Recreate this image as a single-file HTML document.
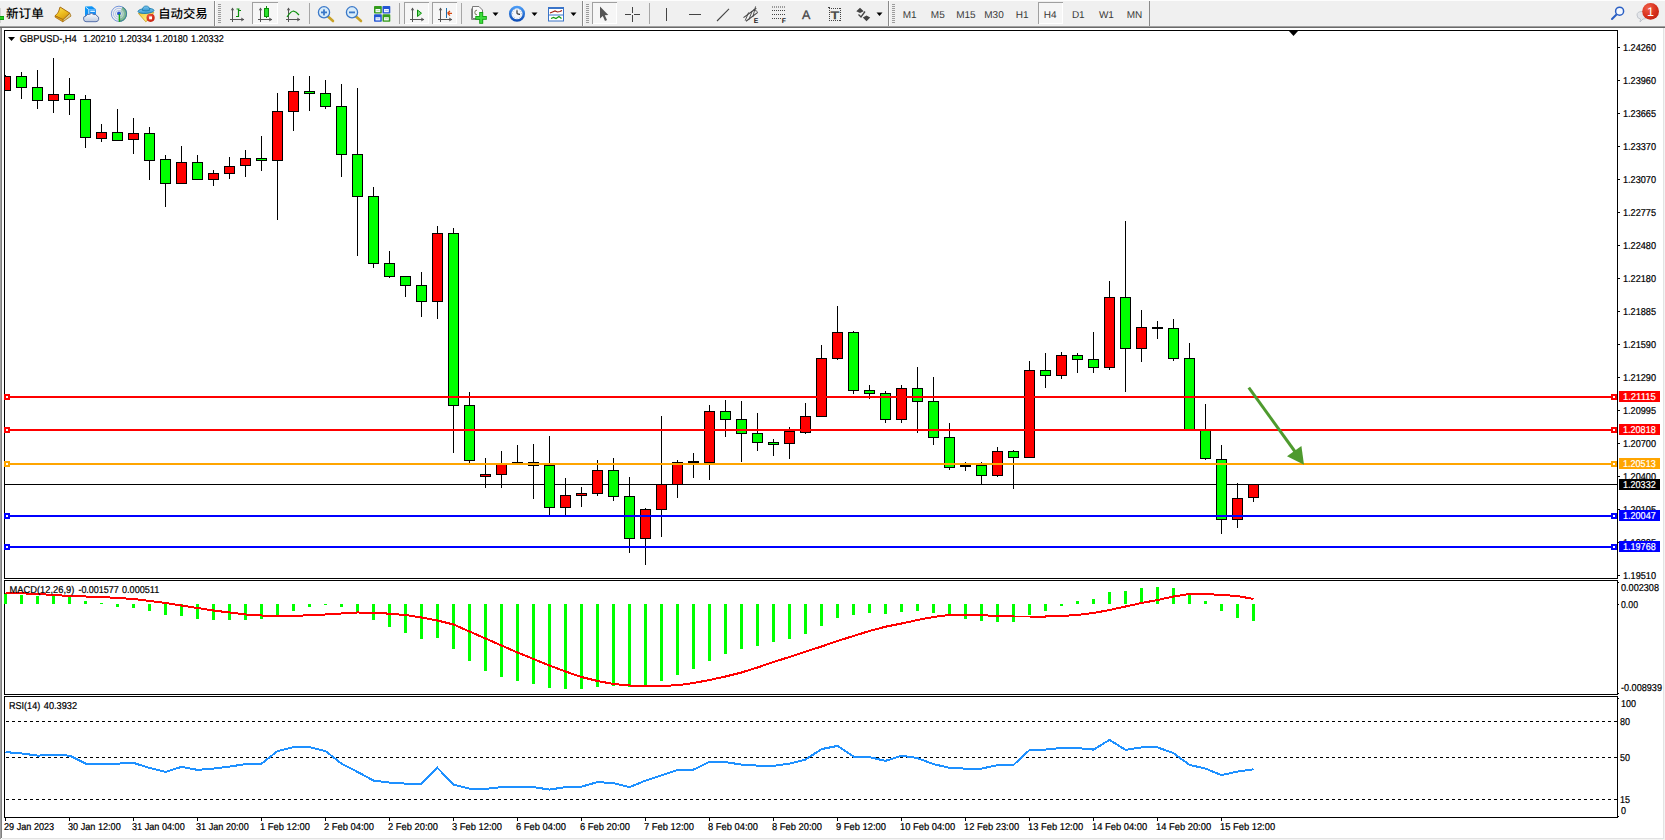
<!DOCTYPE html>
<html><head><meta charset="utf-8"><title>GBPUSD H4</title>
<style>
html,body{margin:0;padding:0;background:#fff;overflow:hidden}
svg{display:block}
svg text{stroke:#000;stroke-width:.22px}
</style></head><body>
<svg width="1665" height="840" viewBox="0 0 1665 840" font-family="'Liberation Sans',sans-serif" font-size="10" fill="#000" text-rendering="geometricPrecision">
<rect x="0" y="0" width="1665" height="840" fill="#fff"/>
<g id="toolbar">
<!-- toolbar background -->
<rect x="0" y="0" width="1665" height="26" fill="#f0f0f0"/>
<rect x="0" y="0" width="1665" height="1" fill="#fdfdfd"/>
<rect x="0" y="26" width="1665" height="1" fill="#a0a0a0"/>
<rect x="0" y="27" width="1665" height="1" fill="#696969"/>
<!-- left stub of new order icon -->
<rect x="0" y="8" width="1" height="15" fill="#d4d4d4"/>
<rect x="0" y="16" width="4" height="4" fill="#0c9a0c"/><rect x="0" y="17" width="3.5" height="2" fill="#22d022"/>
<text x="6" y="17.6" font-size="12.6" font-weight="500" style="fill:#000;stroke:none" font-family="'Liberation Sans','Noto Sans CJK SC',sans-serif">新订单</text>
<!-- book icon -->
<defs>
<linearGradient id="gbook" x1="0" y1="0" x2="0.6" y2="1"><stop offset="0" stop-color="#fbe46a"/><stop offset="0.55" stop-color="#eec020"/><stop offset="1" stop-color="#d89c10"/></linearGradient>
<linearGradient id="gcloud" x1="0" y1="0" x2="0" y2="1"><stop offset="0" stop-color="#ffffff"/><stop offset="1" stop-color="#bcc8de"/></linearGradient>
<linearGradient id="gcube" x1="0" y1="0" x2="1" y2="1"><stop offset="0" stop-color="#0a9cf8"/><stop offset="1" stop-color="#1a84f0"/></linearGradient>
<radialGradient id="gred" cx="0.35" cy="0.3" r="0.8"><stop offset="0" stop-color="#f0604a"/><stop offset="0.6" stop-color="#d8301c"/><stop offset="1" stop-color="#c02010"/></radialGradient>
</defs>
<g>
<path d="M69.8 13.1 L71 16.1 L62.8 21.8 L62.6 19.2 Z" fill="#d9c98a" stroke="#a87418" stroke-width="0.8"/>
<path d="M60.1 7 L69.8 13.1 L63 19.6 L55 15.8 C59.2 12.6 59 9.6 60.1 7 Z" fill="url(#gbook)" stroke="#a86c10" stroke-width="1"/>
<path d="M55 15.8 L63 19.6 L62.8 21.8 L55.2 17.2 Z" fill="#e2a818" stroke="#a86c10" stroke-width="0.8"/>
</g>
<!-- market watch icon -->
<g>
<path d="M85 6.4 L92 6.2 L95.9 9.2 L95.9 16 L85 16 Z" fill="url(#gcube)"/>
<path d="M85.6 7 L88.8 9.6 L88.8 16" fill="none" stroke="#e8f6ff" stroke-width="0.9"/>
<path d="M88.8 9.6 L95.6 9.4" fill="none" stroke="#7cc8ff" stroke-width="0.7"/>
<rect x="90.3" y="10.6" width="4.6" height="1.4" fill="#d8f0ff"/>
<path d="M83.6 19.2 Q82.8 16.2 86 16 Q86.6 13.6 89.4 14.4 Q91.4 12.2 93.8 14.6 Q96.4 13.8 97 16 Q99.4 16.6 98.6 19.6 Q98 21.7 96 21.7 L86 21.7 Q84 21.7 83.6 19.2 Z" fill="url(#gcloud)" stroke="#4a66a4" stroke-width="0.9"/>
</g>
<!-- signals icon -->
<defs>
<radialGradient id="gsig" gradientUnits="userSpaceOnUse" cx="118.95" cy="13.8" r="8"><stop offset="0" stop-color="#e6f2e0" stop-opacity="0.5"/><stop offset="0.55" stop-color="#b4d8ae" stop-opacity="0.9"/><stop offset="1" stop-color="#4fa858"/></radialGradient>
<linearGradient id="ghat" x1="0" y1="0" x2="0" y2="1"><stop offset="0" stop-color="#7cc8f0"/><stop offset="1" stop-color="#3a98d0"/></linearGradient>
<linearGradient id="gface" x1="0" y1="0" x2="1" y2="1"><stop offset="0" stop-color="#f2c830"/><stop offset="0.6" stop-color="#fbe878"/><stop offset="1" stop-color="#e8b820"/></linearGradient>
</defs>
<g fill="none">
<path d="M118.95 13.8 L122.71 6.74 A8 8 0 0 1 118.95 21.80 Z" fill="url(#gsig)"/>
<circle cx="118.95" cy="13.8" r="7.6" stroke="#3f6cd0" stroke-width="1" opacity="0.7"/>
<circle cx="118.95" cy="13.8" r="5.5" stroke="#4a78d8" stroke-width="0.9" opacity="0.45"/>
<circle cx="118.95" cy="13.8" r="3.5" stroke="#4a78d8" stroke-width="0.9" opacity="0.4"/>
<path d="M122.52 7.09 A7.6 7.6 0 0 1 119.22 21.40" stroke="#3a7a8a" stroke-width="0.9" opacity="0.55"/>
<circle cx="118.95" cy="13.4" r="1.9" fill="#2858d0"/>
<rect x="118.7" y="14" width="1.4" height="7.8" fill="#18a818"/>
</g>
<!-- expert advisors icon -->
<g>
<path d="M138.4 13.4 L153.8 12.2 L151 17 L145.8 21.8 Z" fill="url(#gface)" stroke="#c89a18" stroke-width="0.8"/>
<ellipse cx="146" cy="10.9" rx="8" ry="2.5" fill="url(#ghat)" stroke="#1c7cae" stroke-width="0.9" transform="rotate(-4 146 10.9)"/>
<path d="M142.3 10.4 Q142.6 6 146 6 Q149.6 6 149.8 10.2 Q146 11.6 142.3 10.4 Z" fill="url(#ghat)" stroke="#1c7cae" stroke-width="0.8"/>
<circle cx="150.6" cy="17.8" r="4.1" fill="url(#gred)"/>
<rect x="149.1" y="16.4" width="2.9" height="2.9" fill="#fff"/>
</g>
<text x="158.2" y="17.6" font-size="12.4" font-weight="500" style="fill:#000;stroke:none" font-family="'Liberation Sans','Noto Sans CJK SC',sans-serif">自动交易</text>

<rect x="214" y="1" width="1" height="25" fill="#8a8a8a"/>
<rect x="215" y="1" width="1" height="25" fill="#fbfbfb"/>
<rect x="218" y="4" width="3" height="1" fill="#9c9c9c"/>
<rect x="218" y="6" width="3" height="1" fill="#9c9c9c"/>
<rect x="218" y="8" width="3" height="1" fill="#9c9c9c"/>
<rect x="218" y="10" width="3" height="1" fill="#9c9c9c"/>
<rect x="218" y="12" width="3" height="1" fill="#9c9c9c"/>
<rect x="218" y="14" width="3" height="1" fill="#9c9c9c"/>
<rect x="218" y="16" width="3" height="1" fill="#9c9c9c"/>
<rect x="218" y="18" width="3" height="1" fill="#9c9c9c"/>
<rect x="218" y="20" width="3" height="1" fill="#9c9c9c"/>
<rect x="218" y="22" width="3" height="1" fill="#9c9c9c"/>
<rect x="232" y="8" width="1" height="14" fill="#555"/>
<rect x="230" y="19" width="14" height="1" fill="#555"/>
<path d="M230.8 10.3 L232.5 7.4 L234.2 10.3 Z" fill="#555"/>
<path d="M241.3 17.6 L244.2 19.5 L241.3 21.4 Z" fill="#555"/>
<path d="M239.5 9 L236.5 9 M238.5 9 L238.5 17 M238.5 16.5 L236 16.5 M238.5 10.5 L241 10.5" stroke="#0a8f0a" stroke-width="1.2" fill="none"/>
<rect x="252" y="2" width="26" height="22" fill="#f6f6f6"/>
<rect x="252" y="2" width="26" height="1" fill="#a0a0a0"/>
<rect x="252" y="2" width="1" height="22" fill="#a0a0a0"/>
<rect x="277" y="3" width="1" height="21" fill="#ffffff"/>
<rect x="253" y="23" width="25" height="1" fill="#ffffff"/>
<rect x="260" y="8" width="1" height="14" fill="#555"/>
<rect x="258" y="19" width="14" height="1" fill="#555"/>
<path d="M258.8 10.3 L260.5 7.4 L262.2 10.3 Z" fill="#555"/>
<path d="M269.3 17.6 L272.2 19.5 L269.3 21.4 Z" fill="#555"/>
<rect x="266" y="6" width="1" height="12" fill="#0a8f0a"/>
<rect x="264" y="8" width="5" height="9" fill="#0a8f0a"/>
<rect x="265" y="9" width="3" height="7" fill="#2be02b"/>
<rect x="288" y="8" width="1" height="14" fill="#555"/>
<rect x="286" y="19" width="14" height="1" fill="#555"/>
<path d="M286.8 10.3 L288.5 7.4 L290.2 10.3 Z" fill="#555"/>
<path d="M297.3 17.6 L300.2 19.5 L297.3 21.4 Z" fill="#555"/>
<path d="M287 17 Q291 11 293.5 11 Q296 11.5 299 15" stroke="#0a8f0a" stroke-width="1.2" fill="none"/>
<rect x="309" y="3" width="1" height="21" fill="#a6a6a6"/>
<path d="M328 16.5 L333 21" stroke="#c9a227" stroke-width="2.6" stroke-linecap="round"/>
<circle cx="324" cy="12.3" r="5.6" fill="#d8ecfa" stroke="#3a78c8" stroke-width="1.3"/>
<rect x="321" y="11.5" width="6" height="1.8" fill="#3a78c8"/>
<rect x="323.1" y="9.4" width="1.8" height="6" fill="#3a78c8"/>
<path d="M356 16.5 L361 21" stroke="#c9a227" stroke-width="2.6" stroke-linecap="round"/>
<circle cx="352" cy="12.3" r="5.6" fill="#d8ecfa" stroke="#3a78c8" stroke-width="1.3"/>
<rect x="349" y="11.5" width="6" height="1.8" fill="#3a78c8"/>
<rect x="374" y="6" width="7.8" height="7.6" rx="0.8" fill="#349c1c"/>
<rect x="375.5" y="9" width="4.8" height="3.2" fill="#f4f8ff"/>
<rect x="376.3" y="10" width="3.2" height="1" fill="#bfe6a8"/>
<rect x="382.5" y="6" width="7.8" height="7.6" rx="0.8" fill="#2456d4"/>
<rect x="384.0" y="9" width="4.8" height="3.2" fill="#f4f8ff"/>
<rect x="384.8" y="10" width="3.2" height="1" fill="#b4c8f4"/>
<rect x="374" y="14.2" width="7.8" height="7.6" rx="0.8" fill="#2456d4"/>
<rect x="375.5" y="17.2" width="4.8" height="3.2" fill="#f4f8ff"/>
<rect x="376.3" y="18.2" width="3.2" height="1" fill="#b4c8f4"/>
<rect x="382.5" y="14.2" width="7.8" height="7.6" rx="0.8" fill="#349c1c"/>
<rect x="384.0" y="17.2" width="4.8" height="3.2" fill="#f4f8ff"/>
<rect x="384.8" y="18.2" width="3.2" height="1" fill="#bfe6a8"/>
<rect x="399" y="3" width="1" height="21" fill="#a6a6a6"/>
<rect x="404" y="2" width="25" height="22" fill="#f6f6f6"/>
<rect x="404" y="2" width="25" height="1" fill="#a0a0a0"/>
<rect x="404" y="2" width="1" height="22" fill="#a0a0a0"/>
<rect x="428" y="3" width="1" height="21" fill="#ffffff"/>
<rect x="405" y="23" width="24" height="1" fill="#ffffff"/>
<rect x="412" y="8" width="1" height="14" fill="#555"/>
<rect x="410" y="19" width="14" height="1" fill="#555"/>
<path d="M410.8 10.3 L412.5 7.4 L414.2 10.3 Z" fill="#555"/>
<path d="M421.3 17.6 L424.2 19.5 L421.3 21.4 Z" fill="#555"/>
<path d="M417.5 10 L417.5 16.5 L421.5 13.2 Z" fill="#7be07b" stroke="#0a8f0a" stroke-width="1"/>
<rect x="432" y="2" width="25" height="22" fill="#f6f6f6"/>
<rect x="432" y="2" width="25" height="1" fill="#a0a0a0"/>
<rect x="432" y="2" width="1" height="22" fill="#a0a0a0"/>
<rect x="456" y="3" width="1" height="21" fill="#ffffff"/>
<rect x="433" y="23" width="24" height="1" fill="#ffffff"/>
<rect x="440" y="8" width="1" height="14" fill="#555"/>
<rect x="438" y="19" width="14" height="1" fill="#555"/>
<path d="M438.8 10.3 L440.5 7.4 L442.2 10.3 Z" fill="#555"/>
<path d="M449.3 17.6 L452.2 19.5 L449.3 21.4 Z" fill="#555"/>
<rect x="446" y="8" width="1" height="10" fill="#1a6fb0"/>
<path d="M447.5 13.3 L452 13.3 M447.5 13.3 L450 11 M447.5 13.3 L450 15.6" stroke="#d84a10" stroke-width="1.2" fill="none"/>
<rect x="461" y="3" width="1" height="21" fill="#a6a6a6"/>
<path d="M471.5 8.5 L471.5 19.5 L480 19.5" fill="none" stroke="#8a8a8a" stroke-width="1"/>
<path d="M472.5 6.5 L479 6.5 L482.5 10 L482.5 18.5 L472.5 18.5 Z" fill="#fafafa" stroke="#7a7a7a" stroke-width="1"/>
<path d="M477 10.2 Q474.8 10 474.8 12.5 Q474.8 15 477 14.8" fill="none" stroke="#6a6a4a" stroke-width="0.9"/>
<rect x="479.2" y="12" width="4" height="11.8" fill="#10a010"/>
<rect x="475.3" y="16" width="11.5" height="3.8" fill="#10a010"/>
<rect x="480.1" y="12.9" width="2.2" height="10" fill="#3fdc3f"/>
<rect x="476.2" y="16.9" width="9.7" height="2" fill="#3fdc3f"/>
<path d="M492.5 12.5 L498.5 12.5 L495.5 16 Z" fill="#000"/>
<defs><linearGradient id="gclk" x1="0" y1="0" x2="0" y2="1"><stop offset="0" stop-color="#4a9af4"/><stop offset="1" stop-color="#0f4fb8"/></linearGradient></defs>
<circle cx="517" cy="13.8" r="6.8" fill="#f2f6fc" stroke="url(#gclk)" stroke-width="2.5"/>
<circle cx="521.60" cy="13.80" r="0.45" fill="#8a94a8"/>
<circle cx="520.98" cy="16.10" r="0.45" fill="#8a94a8"/>
<circle cx="519.30" cy="17.78" r="0.45" fill="#8a94a8"/>
<circle cx="517.00" cy="18.40" r="0.45" fill="#8a94a8"/>
<circle cx="514.70" cy="17.78" r="0.45" fill="#8a94a8"/>
<circle cx="513.02" cy="16.10" r="0.45" fill="#8a94a8"/>
<circle cx="512.40" cy="13.80" r="0.45" fill="#8a94a8"/>
<circle cx="513.02" cy="11.50" r="0.45" fill="#8a94a8"/>
<circle cx="514.70" cy="9.82" r="0.45" fill="#8a94a8"/>
<circle cx="517.00" cy="9.20" r="0.45" fill="#8a94a8"/>
<circle cx="519.30" cy="9.82" r="0.45" fill="#8a94a8"/>
<circle cx="520.98" cy="11.50" r="0.45" fill="#8a94a8"/>
<path d="M517 13.8 L517 10.2 M517 13.8 L520 14.4" stroke="#222" stroke-width="1.1" fill="none"/>
<path d="M531.5 12.5 L537.5 12.5 L534.5 16 Z" fill="#000"/>
<rect x="548" y="7" width="16" height="14.5" fill="#3a74c8"/>
<rect x="549" y="9" width="14" height="5.5" fill="#fff"/>
<rect x="549" y="15.5" width="14" height="5" fill="#fff"/>
<path d="M550 13 L552.5 12 L555 11 L557.5 12 L560 11.5 L562 10.5" stroke="#a02010" stroke-width="1.2" fill="none"/>
<path d="M551 18.5 L553.5 17.5 L556 18.5 L559 16.5 L561.5 18.5" stroke="#119a11" stroke-width="1.2" fill="none"/>
<path d="M570.5 12.5 L576.5 12.5 L573.5 16 Z" fill="#000"/>
<rect x="582" y="1" width="1" height="25" fill="#8a8a8a"/>
<rect x="583" y="1" width="1" height="25" fill="#fbfbfb"/>
<rect x="586" y="4" width="3" height="1" fill="#9c9c9c"/>
<rect x="586" y="6" width="3" height="1" fill="#9c9c9c"/>
<rect x="586" y="8" width="3" height="1" fill="#9c9c9c"/>
<rect x="586" y="10" width="3" height="1" fill="#9c9c9c"/>
<rect x="586" y="12" width="3" height="1" fill="#9c9c9c"/>
<rect x="586" y="14" width="3" height="1" fill="#9c9c9c"/>
<rect x="586" y="16" width="3" height="1" fill="#9c9c9c"/>
<rect x="586" y="18" width="3" height="1" fill="#9c9c9c"/>
<rect x="586" y="20" width="3" height="1" fill="#9c9c9c"/>
<rect x="586" y="22" width="3" height="1" fill="#9c9c9c"/>
<rect x="592" y="2" width="25" height="22" fill="#f6f6f6"/>
<rect x="592" y="2" width="25" height="1" fill="#a0a0a0"/>
<rect x="592" y="2" width="1" height="22" fill="#a0a0a0"/>
<rect x="616" y="3" width="1" height="21" fill="#ffffff"/>
<rect x="593" y="23" width="24" height="1" fill="#ffffff"/>
<path d="M600 6.5 L600 18.5 L602.8 16 L605 21 L607 20 L604.8 15.3 L608.3 15 Z" fill="#555"/>
<rect x="632" y="7" width="1" height="6" fill="#444"/>
<rect x="632" y="15" width="1" height="7" fill="#444"/>
<rect x="625" y="14" width="6" height="1" fill="#444"/>
<rect x="634" y="14" width="6" height="1" fill="#444"/>
<rect x="649" y="3" width="1" height="21" fill="#a6a6a6"/>
<rect x="666" y="8" width="1" height="13" fill="#444"/>
<rect x="689" y="14" width="12" height="1" fill="#444"/>
<path d="M717 21 L729 8.8" stroke="#444" stroke-width="1.1"/>
<path d="M743.5 17.6 L756.3 8.2 M746 21.2 L757.8 12.4" stroke="#444" stroke-width="1.1" fill="none"/>
<path d="M745.2 20.6 L748.6 12.4 M748.8 19.8 L752.2 11 M752.8 17 L755.6 6.4 M753.2 9.8 L757.4 11.4" stroke="#444" stroke-width="0.9" fill="none"/>
<text x="753.8" y="22.6" font-size="6.8" font-weight="bold" style="fill:#222;stroke:none" font-family="'Liberation Sans',sans-serif">E</text>
<rect x="772" y="6.5" width="1" height="1" fill="#444"/>
<rect x="774" y="6.5" width="1" height="1" fill="#444"/>
<rect x="776" y="6.5" width="1" height="1" fill="#444"/>
<rect x="778" y="6.5" width="1" height="1" fill="#444"/>
<rect x="780" y="6.5" width="1" height="1" fill="#444"/>
<rect x="782" y="6.5" width="1" height="1" fill="#444"/>
<rect x="784" y="6.5" width="1" height="1" fill="#444"/>
<rect x="772" y="10.0" width="1" height="1" fill="#444"/>
<rect x="774" y="10.0" width="1" height="1" fill="#444"/>
<rect x="776" y="10.0" width="1" height="1" fill="#444"/>
<rect x="778" y="10.0" width="1" height="1" fill="#444"/>
<rect x="780" y="10.0" width="1" height="1" fill="#444"/>
<rect x="782" y="10.0" width="1" height="1" fill="#444"/>
<rect x="784" y="10.0" width="1" height="1" fill="#444"/>
<rect x="772" y="14.0" width="1" height="1" fill="#444"/>
<rect x="774" y="14.0" width="1" height="1" fill="#444"/>
<rect x="776" y="14.0" width="1" height="1" fill="#444"/>
<rect x="778" y="14.0" width="1" height="1" fill="#444"/>
<rect x="780" y="14.0" width="1" height="1" fill="#444"/>
<rect x="782" y="14.0" width="1" height="1" fill="#444"/>
<rect x="784" y="14.0" width="1" height="1" fill="#444"/>
<rect x="772" y="18.0" width="1" height="1" fill="#444"/>
<rect x="774" y="18.0" width="1" height="1" fill="#444"/>
<rect x="776" y="18.0" width="1" height="1" fill="#444"/>
<rect x="778" y="18.0" width="1" height="1" fill="#444"/>
<rect x="780" y="18.0" width="1" height="1" fill="#444"/>
<text x="781.8" y="22.6" font-size="6.8" font-weight="bold" style="fill:#222;stroke:none" font-family="'Liberation Sans',sans-serif">F</text>
<text x="802" y="19" font-size="12.5" style="fill:#444;stroke:#444;stroke-width:.3px" font-family="'Liberation Sans',sans-serif">A</text>
<rect x="829" y="8" width="1" height="1" fill="#444"/>
<rect x="829" y="20" width="1" height="1" fill="#444"/>
<rect x="831" y="8" width="1" height="1" fill="#444"/>
<rect x="831" y="20" width="1" height="1" fill="#444"/>
<rect x="833" y="8" width="1" height="1" fill="#444"/>
<rect x="833" y="20" width="1" height="1" fill="#444"/>
<rect x="835" y="8" width="1" height="1" fill="#444"/>
<rect x="835" y="20" width="1" height="1" fill="#444"/>
<rect x="837" y="8" width="1" height="1" fill="#444"/>
<rect x="837" y="20" width="1" height="1" fill="#444"/>
<rect x="839" y="8" width="1" height="1" fill="#444"/>
<rect x="839" y="20" width="1" height="1" fill="#444"/>
<rect x="829" y="8" width="1" height="1" fill="#444"/>
<rect x="840" y="8" width="1" height="1" fill="#444"/>
<rect x="829" y="10" width="1" height="1" fill="#444"/>
<rect x="840" y="10" width="1" height="1" fill="#444"/>
<rect x="829" y="12" width="1" height="1" fill="#444"/>
<rect x="840" y="12" width="1" height="1" fill="#444"/>
<rect x="829" y="14" width="1" height="1" fill="#444"/>
<rect x="840" y="14" width="1" height="1" fill="#444"/>
<rect x="829" y="16" width="1" height="1" fill="#444"/>
<rect x="840" y="16" width="1" height="1" fill="#444"/>
<rect x="829" y="18" width="1" height="1" fill="#444"/>
<rect x="840" y="18" width="1" height="1" fill="#444"/>
<rect x="829" y="20" width="1" height="1" fill="#444"/>
<rect x="840" y="20" width="1" height="1" fill="#444"/>
<rect x="828" y="7" width="2" height="1" fill="#444"/>
<text x="830.6" y="18.6" font-size="10.5" textLength="8.8" lengthAdjust="spacingAndGlyphs" style="fill:#444;stroke:#444;stroke-width:.5px" font-family="'Liberation Sans',sans-serif">T</text>
<path d="M856.3 11.2 L860 7.8 L863.7 11.2 L860 13 Z M862.8 17.4 L866.5 15.6 L870.2 17.4 L866.5 21.2 Z" fill="#444"/>
<path d="M858.5 14.5 L861 17 L865 11.5" stroke="#444" stroke-width="1.3" fill="none"/>
<path d="M876.5 12.5 L882.5 12.5 L879.5 16 Z" fill="#000"/>
<rect x="888" y="1" width="1" height="25" fill="#8a8a8a"/>
<rect x="889" y="1" width="1" height="25" fill="#fbfbfb"/>
<rect x="892" y="4" width="3" height="1" fill="#9c9c9c"/>
<rect x="892" y="6" width="3" height="1" fill="#9c9c9c"/>
<rect x="892" y="8" width="3" height="1" fill="#9c9c9c"/>
<rect x="892" y="10" width="3" height="1" fill="#9c9c9c"/>
<rect x="892" y="12" width="3" height="1" fill="#9c9c9c"/>
<rect x="892" y="14" width="3" height="1" fill="#9c9c9c"/>
<rect x="892" y="16" width="3" height="1" fill="#9c9c9c"/>
<rect x="892" y="18" width="3" height="1" fill="#9c9c9c"/>
<rect x="892" y="20" width="3" height="1" fill="#9c9c9c"/>
<rect x="892" y="22" width="3" height="1" fill="#9c9c9c"/>
<rect x="1038" y="2" width="25" height="22" fill="#f6f6f6"/>
<rect x="1038" y="2" width="25" height="1" fill="#a0a0a0"/>
<rect x="1038" y="2" width="1" height="22" fill="#a0a0a0"/>
<rect x="1062" y="3" width="1" height="21" fill="#ffffff"/>
<rect x="1039" y="23" width="24" height="1" fill="#ffffff"/>
<text x="909.7" y="18" font-size="10" text-anchor="middle" style="fill:#383838;stroke:none" font-family="'Liberation Sans',sans-serif">M1</text>
<text x="937.8" y="18" font-size="10" text-anchor="middle" style="fill:#383838;stroke:none" font-family="'Liberation Sans',sans-serif">M5</text>
<text x="965.9" y="18" font-size="10" text-anchor="middle" style="fill:#383838;stroke:none" font-family="'Liberation Sans',sans-serif">M15</text>
<text x="994.0" y="18" font-size="10" text-anchor="middle" style="fill:#383838;stroke:none" font-family="'Liberation Sans',sans-serif">M30</text>
<text x="1022.1" y="18" font-size="10" text-anchor="middle" style="fill:#383838;stroke:none" font-family="'Liberation Sans',sans-serif">H1</text>
<text x="1050.2" y="18" font-size="10" text-anchor="middle" style="fill:#383838;stroke:none" font-family="'Liberation Sans',sans-serif">H4</text>
<text x="1078.3" y="18" font-size="10" text-anchor="middle" style="fill:#383838;stroke:none" font-family="'Liberation Sans',sans-serif">D1</text>
<text x="1106.4" y="18" font-size="10" text-anchor="middle" style="fill:#383838;stroke:none" font-family="'Liberation Sans',sans-serif">W1</text>
<text x="1134.5" y="18" font-size="10" text-anchor="middle" style="fill:#383838;stroke:none" font-family="'Liberation Sans',sans-serif">MN</text>
<rect x="1149" y="1" width="1" height="25" fill="#8a8a8a"/>
<path d="M1616.5 14.5 L1612 19" stroke="#2a5fc4" stroke-width="2" stroke-linecap="round"/>
<circle cx="1619.6" cy="11.2" r="4" fill="#f4f8ff" stroke="#2a5fc4" stroke-width="1.5"/>
<path d="M1637 15 Q1637 11.5 1642 11.5 Q1648 11.5 1648 15.5 Q1648 19 1643 19 L1640 22 L1640.5 19 Q1637 18.5 1637 15 Z" fill="#e4e6ea" stroke="#b8bcc4" stroke-width="0.8"/>
<circle cx="1650.6" cy="11.4" r="8.4" fill="url(#gred)"/>
<text x="1650.6" y="16" font-size="12.5" text-anchor="middle" style="fill:#fff;stroke:none" font-family="'Liberation Sans',sans-serif">1</text>
</g>
<g shape-rendering="crispEdges">
<rect x="0" y="28" width="1" height="811" fill="#a0a0a0"/>
<rect x="1" y="28" width="1" height="810" fill="#808080"/>
<rect x="1663" y="28" width="1" height="811" fill="#e3e3e3"/>
<rect x="1664" y="28" width="1" height="812" fill="#f4f4f4"/>
<rect x="2" y="838" width="1662" height="1" fill="#e3e3e3"/>
<rect x="0" y="839" width="1665" height="1" fill="#f4f4f4"/>
<rect x="4" y="30" width="1614" height="1" fill="#000"/>
<rect x="4" y="30" width="1" height="788" fill="#000"/>
<rect x="1617" y="30" width="1" height="788" fill="#000"/>
<rect x="4" y="578" width="1614" height="1" fill="#000"/>
<rect x="4" y="579" width="1614" height="1" fill="#fff"/>
<rect x="4" y="580" width="1614" height="1" fill="#000"/>
<rect x="4" y="694" width="1614" height="1" fill="#000"/>
<rect x="4" y="695" width="1614" height="1" fill="#fff"/>
<rect x="4" y="696" width="1614" height="1" fill="#000"/>
<rect x="4" y="817" width="1614" height="1" fill="#000"/>
<path d="M1289 31 L1298 31 L1293.5 36 Z" fill="#000" shape-rendering="auto"/>
<rect x="5" y="484" width="1612" height="1" fill="#000"/>
<clipPath id="cc"><rect x="5" y="31" width="1612" height="547"/></clipPath>
<g id="candles" clip-path="url(#cc)"><rect x="5" y="75" width="1" height="16" fill="#000"/>
<rect x="0" y="76" width="11" height="15" fill="#000"/>
<rect x="1" y="77" width="9" height="13" fill="#ff0000"/>
<rect x="21" y="72" width="1" height="27" fill="#000"/>
<rect x="16" y="76" width="11" height="12" fill="#000"/>
<rect x="17" y="77" width="9" height="10" fill="#00ff00"/>
<rect x="37" y="70" width="1" height="39" fill="#000"/>
<rect x="32" y="87" width="11" height="14" fill="#000"/>
<rect x="33" y="88" width="9" height="12" fill="#00ff00"/>
<rect x="53" y="58" width="1" height="55" fill="#000"/>
<rect x="48" y="94" width="11" height="7" fill="#000"/>
<rect x="49" y="95" width="9" height="5" fill="#ff0000"/>
<rect x="69" y="78" width="1" height="37" fill="#000"/>
<rect x="64" y="94" width="11" height="6" fill="#000"/>
<rect x="65" y="95" width="9" height="4" fill="#00ff00"/>
<rect x="85" y="95" width="1" height="53" fill="#000"/>
<rect x="80" y="99" width="11" height="39" fill="#000"/>
<rect x="81" y="100" width="9" height="37" fill="#00ff00"/>
<rect x="101" y="124" width="1" height="18" fill="#000"/>
<rect x="96" y="132" width="11" height="7" fill="#000"/>
<rect x="97" y="133" width="9" height="5" fill="#ff0000"/>
<rect x="117" y="109" width="1" height="32" fill="#000"/>
<rect x="112" y="132" width="11" height="9" fill="#000"/>
<rect x="113" y="133" width="9" height="7" fill="#00ff00"/>
<rect x="133" y="118" width="1" height="36" fill="#000"/>
<rect x="128" y="133" width="11" height="7" fill="#000"/>
<rect x="129" y="134" width="9" height="5" fill="#ff0000"/>
<rect x="149" y="127" width="1" height="53" fill="#000"/>
<rect x="144" y="133" width="11" height="28" fill="#000"/>
<rect x="145" y="134" width="9" height="26" fill="#00ff00"/>
<rect x="165" y="155" width="1" height="52" fill="#000"/>
<rect x="160" y="159" width="11" height="25" fill="#000"/>
<rect x="161" y="160" width="9" height="23" fill="#00ff00"/>
<rect x="181" y="146" width="1" height="38" fill="#000"/>
<rect x="176" y="162" width="11" height="22" fill="#000"/>
<rect x="177" y="163" width="9" height="20" fill="#ff0000"/>
<rect x="197" y="155" width="1" height="25" fill="#000"/>
<rect x="192" y="162" width="11" height="18" fill="#000"/>
<rect x="193" y="163" width="9" height="16" fill="#00ff00"/>
<rect x="213" y="170" width="1" height="16" fill="#000"/>
<rect x="208" y="173" width="11" height="7" fill="#000"/>
<rect x="209" y="174" width="9" height="5" fill="#ff0000"/>
<rect x="229" y="157" width="1" height="22" fill="#000"/>
<rect x="224" y="166" width="11" height="8" fill="#000"/>
<rect x="225" y="167" width="9" height="6" fill="#ff0000"/>
<rect x="245" y="150" width="1" height="27" fill="#000"/>
<rect x="240" y="158" width="11" height="8" fill="#000"/>
<rect x="241" y="159" width="9" height="6" fill="#ff0000"/>
<rect x="261" y="136" width="1" height="35" fill="#000"/>
<rect x="256" y="158" width="11" height="3" fill="#000"/>
<rect x="257" y="159" width="9" height="1" fill="#00ff00"/>
<rect x="277" y="93" width="1" height="127" fill="#000"/>
<rect x="272" y="111" width="11" height="50" fill="#000"/>
<rect x="273" y="112" width="9" height="48" fill="#ff0000"/>
<rect x="293" y="76" width="1" height="55" fill="#000"/>
<rect x="288" y="91" width="11" height="21" fill="#000"/>
<rect x="289" y="92" width="9" height="19" fill="#ff0000"/>
<rect x="309" y="76" width="1" height="35" fill="#000"/>
<rect x="304" y="91" width="11" height="3" fill="#000"/>
<rect x="305" y="92" width="9" height="1" fill="#00ff00"/>
<rect x="325" y="80" width="1" height="29" fill="#000"/>
<rect x="320" y="93" width="11" height="14" fill="#000"/>
<rect x="321" y="94" width="9" height="12" fill="#00ff00"/>
<rect x="341" y="84" width="1" height="93" fill="#000"/>
<rect x="336" y="106" width="11" height="49" fill="#000"/>
<rect x="337" y="107" width="9" height="47" fill="#00ff00"/>
<rect x="357" y="88" width="1" height="168" fill="#000"/>
<rect x="352" y="154" width="11" height="43" fill="#000"/>
<rect x="353" y="155" width="9" height="41" fill="#00ff00"/>
<rect x="373" y="187" width="1" height="81" fill="#000"/>
<rect x="368" y="196" width="11" height="68" fill="#000"/>
<rect x="369" y="197" width="9" height="66" fill="#00ff00"/>
<rect x="389" y="251" width="1" height="27" fill="#000"/>
<rect x="384" y="263" width="11" height="14" fill="#000"/>
<rect x="385" y="264" width="9" height="12" fill="#00ff00"/>
<rect x="405" y="276" width="1" height="21" fill="#000"/>
<rect x="400" y="276" width="11" height="10" fill="#000"/>
<rect x="401" y="277" width="9" height="8" fill="#00ff00"/>
<rect x="421" y="272" width="1" height="45" fill="#000"/>
<rect x="416" y="285" width="11" height="17" fill="#000"/>
<rect x="417" y="286" width="9" height="15" fill="#00ff00"/>
<rect x="437" y="226" width="1" height="93" fill="#000"/>
<rect x="432" y="233" width="11" height="69" fill="#000"/>
<rect x="433" y="234" width="9" height="67" fill="#ff0000"/>
<rect x="453" y="228" width="1" height="225" fill="#000"/>
<rect x="448" y="233" width="11" height="173" fill="#000"/>
<rect x="449" y="234" width="9" height="171" fill="#00ff00"/>
<rect x="469" y="392" width="1" height="71" fill="#000"/>
<rect x="464" y="405" width="11" height="56" fill="#000"/>
<rect x="465" y="406" width="9" height="54" fill="#00ff00"/>
<rect x="485" y="458" width="1" height="30" fill="#000"/>
<rect x="480" y="474" width="11" height="3" fill="#000"/>
<rect x="481" y="475" width="9" height="1" fill="#ff0000"/>
<rect x="501" y="451" width="1" height="37" fill="#000"/>
<rect x="496" y="464" width="11" height="11" fill="#000"/>
<rect x="497" y="465" width="9" height="9" fill="#ff0000"/>
<rect x="517" y="445" width="1" height="19" fill="#000"/>
<rect x="512" y="462" width="11" height="1" fill="#000"/>
<rect x="533" y="444" width="1" height="55" fill="#000"/>
<rect x="528" y="462" width="11" height="4" fill="#000"/>
<rect x="529" y="463" width="9" height="2" fill="#00ff00"/>
<rect x="549" y="436" width="1" height="79" fill="#000"/>
<rect x="544" y="465" width="11" height="43" fill="#000"/>
<rect x="545" y="466" width="9" height="41" fill="#00ff00"/>
<rect x="565" y="478" width="1" height="37" fill="#000"/>
<rect x="560" y="495" width="11" height="13" fill="#000"/>
<rect x="561" y="496" width="9" height="11" fill="#ff0000"/>
<rect x="581" y="487" width="1" height="20" fill="#000"/>
<rect x="576" y="493" width="11" height="3" fill="#000"/>
<rect x="577" y="494" width="9" height="1" fill="#ff0000"/>
<rect x="597" y="460" width="1" height="36" fill="#000"/>
<rect x="592" y="470" width="11" height="24" fill="#000"/>
<rect x="593" y="471" width="9" height="22" fill="#ff0000"/>
<rect x="613" y="458" width="1" height="43" fill="#000"/>
<rect x="608" y="470" width="11" height="27" fill="#000"/>
<rect x="609" y="471" width="9" height="25" fill="#00ff00"/>
<rect x="629" y="477" width="1" height="76" fill="#000"/>
<rect x="624" y="496" width="11" height="43" fill="#000"/>
<rect x="625" y="497" width="9" height="41" fill="#00ff00"/>
<rect x="645" y="508" width="1" height="57" fill="#000"/>
<rect x="640" y="509" width="11" height="30" fill="#000"/>
<rect x="641" y="510" width="9" height="28" fill="#ff0000"/>
<rect x="661" y="416" width="1" height="121" fill="#000"/>
<rect x="656" y="484" width="11" height="26" fill="#000"/>
<rect x="657" y="485" width="9" height="24" fill="#ff0000"/>
<rect x="677" y="460" width="1" height="38" fill="#000"/>
<rect x="672" y="462" width="11" height="23" fill="#000"/>
<rect x="673" y="463" width="9" height="21" fill="#ff0000"/>
<rect x="693" y="453" width="1" height="25" fill="#000"/>
<rect x="688" y="461" width="11" height="2" fill="#000"/>
<rect x="709" y="405" width="1" height="75" fill="#000"/>
<rect x="704" y="411" width="11" height="52" fill="#000"/>
<rect x="705" y="412" width="9" height="50" fill="#ff0000"/>
<rect x="725" y="400" width="1" height="37" fill="#000"/>
<rect x="720" y="411" width="11" height="9" fill="#000"/>
<rect x="721" y="412" width="9" height="7" fill="#00ff00"/>
<rect x="741" y="401" width="1" height="61" fill="#000"/>
<rect x="736" y="419" width="11" height="15" fill="#000"/>
<rect x="737" y="420" width="9" height="13" fill="#00ff00"/>
<rect x="757" y="413" width="1" height="38" fill="#000"/>
<rect x="752" y="433" width="11" height="10" fill="#000"/>
<rect x="753" y="434" width="9" height="8" fill="#00ff00"/>
<rect x="773" y="439" width="1" height="17" fill="#000"/>
<rect x="768" y="442" width="11" height="3" fill="#000"/>
<rect x="769" y="443" width="9" height="1" fill="#00ff00"/>
<rect x="789" y="427" width="1" height="32" fill="#000"/>
<rect x="784" y="431" width="11" height="13" fill="#000"/>
<rect x="785" y="432" width="9" height="11" fill="#ff0000"/>
<rect x="805" y="403" width="1" height="31" fill="#000"/>
<rect x="800" y="416" width="11" height="17" fill="#000"/>
<rect x="801" y="417" width="9" height="15" fill="#ff0000"/>
<rect x="821" y="345" width="1" height="72" fill="#000"/>
<rect x="816" y="358" width="11" height="59" fill="#000"/>
<rect x="817" y="359" width="9" height="57" fill="#ff0000"/>
<rect x="837" y="306" width="1" height="54" fill="#000"/>
<rect x="832" y="332" width="11" height="27" fill="#000"/>
<rect x="833" y="333" width="9" height="25" fill="#ff0000"/>
<rect x="853" y="331" width="1" height="63" fill="#000"/>
<rect x="848" y="332" width="11" height="59" fill="#000"/>
<rect x="849" y="333" width="9" height="57" fill="#00ff00"/>
<rect x="869" y="385" width="1" height="14" fill="#000"/>
<rect x="864" y="390" width="11" height="4" fill="#000"/>
<rect x="865" y="391" width="9" height="2" fill="#00ff00"/>
<rect x="885" y="391" width="1" height="32" fill="#000"/>
<rect x="880" y="393" width="11" height="27" fill="#000"/>
<rect x="881" y="394" width="9" height="25" fill="#00ff00"/>
<rect x="901" y="385" width="1" height="38" fill="#000"/>
<rect x="896" y="388" width="11" height="32" fill="#000"/>
<rect x="897" y="389" width="9" height="30" fill="#ff0000"/>
<rect x="917" y="367" width="1" height="66" fill="#000"/>
<rect x="912" y="388" width="11" height="14" fill="#000"/>
<rect x="913" y="389" width="9" height="12" fill="#00ff00"/>
<rect x="933" y="377" width="1" height="68" fill="#000"/>
<rect x="928" y="401" width="11" height="37" fill="#000"/>
<rect x="929" y="402" width="9" height="35" fill="#00ff00"/>
<rect x="949" y="423" width="1" height="47" fill="#000"/>
<rect x="944" y="437" width="11" height="31" fill="#000"/>
<rect x="945" y="438" width="9" height="29" fill="#00ff00"/>
<rect x="965" y="462" width="1" height="9" fill="#000"/>
<rect x="960" y="465" width="11" height="2" fill="#000"/>
<rect x="981" y="462" width="1" height="22" fill="#000"/>
<rect x="976" y="465" width="11" height="11" fill="#000"/>
<rect x="977" y="466" width="9" height="9" fill="#00ff00"/>
<rect x="997" y="447" width="1" height="30" fill="#000"/>
<rect x="992" y="451" width="11" height="25" fill="#000"/>
<rect x="993" y="452" width="9" height="23" fill="#ff0000"/>
<rect x="1013" y="450" width="1" height="39" fill="#000"/>
<rect x="1008" y="451" width="11" height="7" fill="#000"/>
<rect x="1009" y="452" width="9" height="5" fill="#00ff00"/>
<rect x="1029" y="361" width="1" height="97" fill="#000"/>
<rect x="1024" y="370" width="11" height="88" fill="#000"/>
<rect x="1025" y="371" width="9" height="86" fill="#ff0000"/>
<rect x="1045" y="353" width="1" height="35" fill="#000"/>
<rect x="1040" y="370" width="11" height="6" fill="#000"/>
<rect x="1041" y="371" width="9" height="4" fill="#00ff00"/>
<rect x="1061" y="352" width="1" height="27" fill="#000"/>
<rect x="1056" y="355" width="11" height="21" fill="#000"/>
<rect x="1057" y="356" width="9" height="19" fill="#ff0000"/>
<rect x="1077" y="353" width="1" height="20" fill="#000"/>
<rect x="1072" y="355" width="11" height="5" fill="#000"/>
<rect x="1073" y="356" width="9" height="3" fill="#00ff00"/>
<rect x="1093" y="332" width="1" height="41" fill="#000"/>
<rect x="1088" y="359" width="11" height="9" fill="#000"/>
<rect x="1089" y="360" width="9" height="7" fill="#00ff00"/>
<rect x="1109" y="281" width="1" height="89" fill="#000"/>
<rect x="1104" y="297" width="11" height="71" fill="#000"/>
<rect x="1105" y="298" width="9" height="69" fill="#ff0000"/>
<rect x="1125" y="221" width="1" height="171" fill="#000"/>
<rect x="1120" y="297" width="11" height="52" fill="#000"/>
<rect x="1121" y="298" width="9" height="50" fill="#00ff00"/>
<rect x="1141" y="310" width="1" height="52" fill="#000"/>
<rect x="1136" y="327" width="11" height="22" fill="#000"/>
<rect x="1137" y="328" width="9" height="20" fill="#ff0000"/>
<rect x="1157" y="321" width="1" height="18" fill="#000"/>
<rect x="1152" y="327" width="11" height="2" fill="#000"/>
<rect x="1173" y="319" width="1" height="42" fill="#000"/>
<rect x="1168" y="328" width="11" height="31" fill="#000"/>
<rect x="1169" y="329" width="9" height="29" fill="#00ff00"/>
<rect x="1189" y="343" width="1" height="87" fill="#000"/>
<rect x="1184" y="358" width="11" height="72" fill="#000"/>
<rect x="1185" y="359" width="9" height="70" fill="#00ff00"/>
<rect x="1205" y="404" width="1" height="56" fill="#000"/>
<rect x="1200" y="430" width="11" height="29" fill="#000"/>
<rect x="1201" y="431" width="9" height="27" fill="#00ff00"/>
<rect x="1221" y="445" width="1" height="89" fill="#000"/>
<rect x="1216" y="459" width="11" height="61" fill="#000"/>
<rect x="1217" y="460" width="9" height="59" fill="#00ff00"/>
<rect x="1237" y="483" width="1" height="45" fill="#000"/>
<rect x="1232" y="498" width="11" height="22" fill="#000"/>
<rect x="1233" y="499" width="9" height="20" fill="#ff0000"/>
<rect x="1253" y="484" width="1" height="18" fill="#000"/>
<rect x="1248" y="484" width="11" height="14" fill="#000"/>
<rect x="1249" y="485" width="9" height="12" fill="#ff0000"/></g>
<rect x="5" y="396" width="1612" height="2" fill="#ff0000"/>
<rect x="4" y="394" width="6" height="6" fill="#ff0000"/><rect x="6" y="396" width="2" height="2" fill="#fff"/>
<rect x="1611" y="394" width="6" height="6" fill="#ff0000"/><rect x="1613" y="396" width="2" height="2" fill="#fff"/>
<rect x="5" y="429" width="1612" height="2" fill="#ff0000"/>
<rect x="4" y="427" width="6" height="6" fill="#ff0000"/><rect x="6" y="429" width="2" height="2" fill="#fff"/>
<rect x="1611" y="427" width="6" height="6" fill="#ff0000"/><rect x="1613" y="429" width="2" height="2" fill="#fff"/>
<rect x="5" y="463" width="1612" height="2" fill="#ffa500"/>
<rect x="4" y="461" width="6" height="6" fill="#ffa500"/><rect x="6" y="463" width="2" height="2" fill="#fff"/>
<rect x="1611" y="461" width="6" height="6" fill="#ffa500"/><rect x="1613" y="463" width="2" height="2" fill="#fff"/>
<rect x="5" y="515" width="1612" height="2" fill="#0000ff"/>
<rect x="4" y="513" width="6" height="6" fill="#0000ff"/><rect x="6" y="515" width="2" height="2" fill="#fff"/>
<rect x="1611" y="513" width="6" height="6" fill="#0000ff"/><rect x="1613" y="515" width="2" height="2" fill="#fff"/>
<rect x="5" y="546" width="1612" height="2" fill="#0000ff"/>
<rect x="4" y="544" width="6" height="6" fill="#0000ff"/><rect x="6" y="546" width="2" height="2" fill="#fff"/>
<rect x="1611" y="544" width="6" height="6" fill="#0000ff"/><rect x="1613" y="546" width="2" height="2" fill="#fff"/>
</g>
<g id="arrow"><path d="M1248.8 387.7 L1296 453" stroke="#4e9a2e" stroke-width="3" fill="none"/><path d="M1304 464.8 L1301.4 446 L1287 456.3 Z" fill="#4e9a2e"/></g>
<g id="plabels" shape-rendering="crispEdges"><rect x="1618" y="47" width="2" height="1" fill="#000"/>
<text x="1623" y="51" textLength="33" lengthAdjust="spacingAndGlyphs">1.24260</text>
<rect x="1618" y="80" width="2" height="1" fill="#000"/>
<text x="1623" y="84" textLength="33" lengthAdjust="spacingAndGlyphs">1.23960</text>
<rect x="1618" y="113" width="2" height="1" fill="#000"/>
<text x="1623" y="117" textLength="33" lengthAdjust="spacingAndGlyphs">1.23665</text>
<rect x="1618" y="146" width="2" height="1" fill="#000"/>
<text x="1623" y="150" textLength="33" lengthAdjust="spacingAndGlyphs">1.23370</text>
<rect x="1618" y="179" width="2" height="1" fill="#000"/>
<text x="1623" y="183" textLength="33" lengthAdjust="spacingAndGlyphs">1.23070</text>
<rect x="1618" y="212" width="2" height="1" fill="#000"/>
<text x="1623" y="216" textLength="33" lengthAdjust="spacingAndGlyphs">1.22775</text>
<rect x="1618" y="245" width="2" height="1" fill="#000"/>
<text x="1623" y="249" textLength="33" lengthAdjust="spacingAndGlyphs">1.22480</text>
<rect x="1618" y="278" width="2" height="1" fill="#000"/>
<text x="1623" y="282" textLength="33" lengthAdjust="spacingAndGlyphs">1.22180</text>
<rect x="1618" y="311" width="2" height="1" fill="#000"/>
<text x="1623" y="315" textLength="33" lengthAdjust="spacingAndGlyphs">1.21885</text>
<rect x="1618" y="344" width="2" height="1" fill="#000"/>
<text x="1623" y="348" textLength="33" lengthAdjust="spacingAndGlyphs">1.21590</text>
<rect x="1618" y="377" width="2" height="1" fill="#000"/>
<text x="1623" y="381" textLength="33" lengthAdjust="spacingAndGlyphs">1.21290</text>
<rect x="1618" y="410" width="2" height="1" fill="#000"/>
<text x="1623" y="414" textLength="33" lengthAdjust="spacingAndGlyphs">1.20995</text>
<rect x="1618" y="443" width="2" height="1" fill="#000"/>
<text x="1623" y="447" textLength="33" lengthAdjust="spacingAndGlyphs">1.20700</text>
<rect x="1618" y="476" width="2" height="1" fill="#000"/>
<text x="1623" y="480" textLength="33" lengthAdjust="spacingAndGlyphs">1.20400</text>
<rect x="1618" y="509" width="2" height="1" fill="#000"/>
<text x="1623" y="513" textLength="33" lengthAdjust="spacingAndGlyphs">1.20105</text>
<rect x="1618" y="542" width="2" height="1" fill="#000"/>
<text x="1623" y="546" textLength="33" lengthAdjust="spacingAndGlyphs">1.19805</text>
<rect x="1618" y="575" width="2" height="1" fill="#000"/>
<text x="1623" y="579" textLength="33" lengthAdjust="spacingAndGlyphs">1.19510</text></g>
<g id="linelabels">
<rect x="1619" y="391" width="41" height="11" fill="#ff0000" shape-rendering="crispEdges"/>
<text x="1623" y="400" textLength="32.7" lengthAdjust="spacingAndGlyphs" style="fill:#fff;stroke:#fff">1.21115</text>
<rect x="1619" y="424" width="41" height="11" fill="#ff0000" shape-rendering="crispEdges"/>
<text x="1623" y="433" textLength="32.7" lengthAdjust="spacingAndGlyphs" style="fill:#fff;stroke:#fff">1.20818</text>
<rect x="1619" y="458" width="41" height="11" fill="#ffa500" shape-rendering="crispEdges"/>
<text x="1623" y="467" textLength="32.7" lengthAdjust="spacingAndGlyphs" style="fill:#fff;stroke:#fff">1.20513</text>
<rect x="1619" y="510" width="41" height="11" fill="#0000ff" shape-rendering="crispEdges"/>
<text x="1623" y="519" textLength="32.7" lengthAdjust="spacingAndGlyphs" style="fill:#fff;stroke:#fff">1.20047</text>
<rect x="1619" y="541" width="41" height="11" fill="#0000ff" shape-rendering="crispEdges"/>
<text x="1623" y="550" textLength="32.7" lengthAdjust="spacingAndGlyphs" style="fill:#fff;stroke:#fff">1.19768</text>
<rect x="1619" y="479" width="41" height="11" fill="#000" shape-rendering="crispEdges"/>
<text x="1623" y="488" textLength="32.7" lengthAdjust="spacingAndGlyphs" style="fill:#fff;stroke:#fff">1.20332</text>
</g>
<path d="M8 37 L15 37 L11.5 41 Z" fill="#000"/>
<text x="19.8" y="42" textLength="57" lengthAdjust="spacingAndGlyphs">GBPUSD-,H4</text>
<text x="83" y="42" textLength="32.7" lengthAdjust="spacingAndGlyphs">1.20210</text>
<text x="119.2" y="42" textLength="32.7" lengthAdjust="spacingAndGlyphs">1.20334</text>
<text x="155.1" y="42" textLength="32.7" lengthAdjust="spacingAndGlyphs">1.20180</text>
<text x="191" y="42" textLength="32.7" lengthAdjust="spacingAndGlyphs">1.20332</text>
<g id="macd" shape-rendering="crispEdges"><rect x="4" y="594" width="3" height="10" fill="#00ff00"/>
<rect x="20" y="595" width="3" height="9" fill="#00ff00"/>
<rect x="36" y="596" width="3" height="8" fill="#00ff00"/>
<rect x="52" y="596" width="3" height="8" fill="#00ff00"/>
<rect x="68" y="597" width="3" height="7" fill="#00ff00"/>
<rect x="84" y="601" width="3" height="3" fill="#00ff00"/>
<rect x="100" y="603" width="3" height="1" fill="#00ff00"/>
<rect x="116" y="604" width="3" height="3" fill="#00ff00"/>
<rect x="132" y="604" width="3" height="4" fill="#00ff00"/>
<rect x="148" y="604" width="3" height="7" fill="#00ff00"/>
<rect x="164" y="604" width="3" height="11" fill="#00ff00"/>
<rect x="180" y="604" width="3" height="12" fill="#00ff00"/>
<rect x="196" y="604" width="3" height="15" fill="#00ff00"/>
<rect x="212" y="604" width="3" height="16" fill="#00ff00"/>
<rect x="228" y="604" width="3" height="16" fill="#00ff00"/>
<rect x="244" y="604" width="3" height="16" fill="#00ff00"/>
<rect x="260" y="604" width="3" height="15" fill="#00ff00"/>
<rect x="276" y="604" width="3" height="11" fill="#00ff00"/>
<rect x="292" y="604" width="3" height="7" fill="#00ff00"/>
<rect x="308" y="604" width="3" height="3" fill="#00ff00"/>
<rect x="324" y="604" width="3" height="1" fill="#00ff00"/>
<rect x="340" y="604" width="3" height="3" fill="#00ff00"/>
<rect x="356" y="604" width="3" height="8" fill="#00ff00"/>
<rect x="372" y="604" width="3" height="16" fill="#00ff00"/>
<rect x="388" y="604" width="3" height="23" fill="#00ff00"/>
<rect x="404" y="604" width="3" height="29" fill="#00ff00"/>
<rect x="420" y="604" width="3" height="35" fill="#00ff00"/>
<rect x="436" y="604" width="3" height="34" fill="#00ff00"/>
<rect x="452" y="604" width="3" height="45" fill="#00ff00"/>
<rect x="468" y="604" width="3" height="57" fill="#00ff00"/>
<rect x="484" y="604" width="3" height="67" fill="#00ff00"/>
<rect x="500" y="604" width="3" height="73" fill="#00ff00"/>
<rect x="516" y="604" width="3" height="77" fill="#00ff00"/>
<rect x="532" y="604" width="3" height="80" fill="#00ff00"/>
<rect x="548" y="604" width="3" height="84" fill="#00ff00"/>
<rect x="564" y="604" width="3" height="85" fill="#00ff00"/>
<rect x="580" y="604" width="3" height="85" fill="#00ff00"/>
<rect x="596" y="604" width="3" height="83" fill="#00ff00"/>
<rect x="612" y="604" width="3" height="82" fill="#00ff00"/>
<rect x="628" y="604" width="3" height="83" fill="#00ff00"/>
<rect x="644" y="604" width="3" height="81" fill="#00ff00"/>
<rect x="660" y="604" width="3" height="77" fill="#00ff00"/>
<rect x="676" y="604" width="3" height="71" fill="#00ff00"/>
<rect x="692" y="604" width="3" height="65" fill="#00ff00"/>
<rect x="708" y="604" width="3" height="57" fill="#00ff00"/>
<rect x="724" y="604" width="3" height="50" fill="#00ff00"/>
<rect x="740" y="604" width="3" height="45" fill="#00ff00"/>
<rect x="756" y="604" width="3" height="42" fill="#00ff00"/>
<rect x="772" y="604" width="3" height="38" fill="#00ff00"/>
<rect x="788" y="604" width="3" height="35" fill="#00ff00"/>
<rect x="804" y="604" width="3" height="30" fill="#00ff00"/>
<rect x="820" y="604" width="3" height="22" fill="#00ff00"/>
<rect x="836" y="604" width="3" height="14" fill="#00ff00"/>
<rect x="852" y="604" width="3" height="11" fill="#00ff00"/>
<rect x="868" y="604" width="3" height="9" fill="#00ff00"/>
<rect x="884" y="604" width="3" height="10" fill="#00ff00"/>
<rect x="900" y="604" width="3" height="8" fill="#00ff00"/>
<rect x="916" y="604" width="3" height="7" fill="#00ff00"/>
<rect x="932" y="604" width="3" height="9" fill="#00ff00"/>
<rect x="948" y="604" width="3" height="11" fill="#00ff00"/>
<rect x="964" y="604" width="3" height="15" fill="#00ff00"/>
<rect x="980" y="604" width="3" height="17" fill="#00ff00"/>
<rect x="996" y="604" width="3" height="18" fill="#00ff00"/>
<rect x="1012" y="604" width="3" height="18" fill="#00ff00"/>
<rect x="1028" y="604" width="3" height="11" fill="#00ff00"/>
<rect x="1044" y="604" width="3" height="7" fill="#00ff00"/>
<rect x="1060" y="604" width="3" height="2" fill="#00ff00"/>
<rect x="1076" y="601" width="3" height="3" fill="#00ff00"/>
<rect x="1092" y="599" width="3" height="5" fill="#00ff00"/>
<rect x="1108" y="592" width="3" height="12" fill="#00ff00"/>
<rect x="1124" y="591" width="3" height="13" fill="#00ff00"/>
<rect x="1140" y="588" width="3" height="16" fill="#00ff00"/>
<rect x="1156" y="587" width="3" height="17" fill="#00ff00"/>
<rect x="1172" y="588" width="3" height="16" fill="#00ff00"/>
<rect x="1188" y="594" width="3" height="10" fill="#00ff00"/>
<rect x="1204" y="601" width="3" height="3" fill="#00ff00"/>
<rect x="1220" y="604" width="3" height="7" fill="#00ff00"/>
<rect x="1236" y="604" width="3" height="14" fill="#00ff00"/>
<rect x="1252" y="604" width="3" height="17" fill="#00ff00"/>
<polyline points="5.5,593.00 21.5,593.30 37.5,594.00 53.5,595.00 69.5,596.00 85.5,596.50 101.5,597.00 117.5,598.00 133.5,599.00 149.5,601.00 165.5,603.00 181.5,605.50 197.5,608.00 213.5,610.50 229.5,612.50 245.5,614.50 261.5,615.50 277.5,615.80 293.5,615.80 309.5,615.30 325.5,614.50 341.5,613.50 357.5,612.50 373.5,612.70 389.5,613.70 405.5,615.00 421.5,617.50 437.5,620.50 453.5,624.50 469.5,631.50 485.5,638.50 501.5,645.50 517.5,652.50 533.5,659.00 549.5,665.50 565.5,671.50 581.5,677.00 597.5,681.00 613.5,684.00 629.5,685.50 645.5,685.80 661.5,685.80 677.5,685.30 693.5,683.00 709.5,680.00 725.5,676.50 741.5,672.50 757.5,667.50 773.5,662.00 789.5,657.00 805.5,651.70 821.5,646.50 837.5,641.00 853.5,636.00 869.5,631.00 885.5,626.70 901.5,623.50 917.5,620.00 933.5,617.00 949.5,615.00 965.5,614.70 981.5,615.00 997.5,616.20 1013.5,616.50 1029.5,616.50 1045.5,616.50 1061.5,616.00 1077.5,615.00 1093.5,613.00 1109.5,610.00 1125.5,606.50 1141.5,603.00 1157.5,600.00 1173.5,596.50 1189.5,594.00 1205.5,594.00 1221.5,595.00 1237.5,596.00 1253.5,599.00" fill="none" stroke="#ff0000" stroke-width="2"/>
<rect x="1618" y="582" width="1" height="1" fill="#000"/><rect x="1618" y="604" width="1" height="1" fill="#000"/><rect x="1618" y="693" width="1" height="1" fill="#000"/>
</g>
<text x="9.5" y="593" textLength="64.8" lengthAdjust="spacingAndGlyphs">MACD(12,26,9)</text>
<text x="78.4" y="593" textLength="40.4" lengthAdjust="spacingAndGlyphs">-0.001577</text>
<text x="122" y="593" textLength="37.3" lengthAdjust="spacingAndGlyphs">0.000511</text>
<text x="1621" y="591" textLength="38" lengthAdjust="spacingAndGlyphs">0.002308</text>
<text x="1621" y="608" textLength="17" lengthAdjust="spacingAndGlyphs">0.00</text>
<text x="1621" y="691" textLength="41" lengthAdjust="spacingAndGlyphs">-0.008939</text>
<g id="rsi" shape-rendering="crispEdges">
<path d="M6 721.5 H1617" stroke="#000" stroke-width="1" stroke-dasharray="3 3" fill="none"/>
<rect x="1616" y="721" width="1" height="1" fill="#000"/>
<path d="M6 757.5 H1617" stroke="#000" stroke-width="1" stroke-dasharray="3 3" fill="none"/>
<rect x="1616" y="757" width="1" height="1" fill="#000"/>
<path d="M6 799.5 H1617" stroke="#000" stroke-width="1" stroke-dasharray="3 3" fill="none"/>
<rect x="1616" y="799" width="1" height="1" fill="#000"/>
<polyline points="5.5,752.10 21.5,753.40 37.5,755.60 53.5,754.90 69.5,755.60 85.5,763.60 101.5,763.60 117.5,763.60 133.5,762.90 149.5,767.90 165.5,771.90 181.5,766.90 197.5,769.90 213.5,768.60 229.5,766.60 245.5,764.10 261.5,763.60 277.5,751.10 293.5,747.10 309.5,747.10 325.5,751.10 341.5,763.60 357.5,771.90 373.5,780.60 389.5,782.60 405.5,783.60 421.5,783.60 437.5,767.90 453.5,784.60 469.5,788.60 485.5,788.90 501.5,787.10 517.5,786.90 533.5,787.10 549.5,789.60 565.5,787.10 581.5,786.60 597.5,782.10 613.5,783.10 629.5,787.10 645.5,780.60 661.5,775.40 677.5,770.10 693.5,769.60 709.5,761.90 725.5,762.10 741.5,764.60 757.5,765.60 773.5,765.90 789.5,763.60 805.5,759.60 821.5,749.10 837.5,745.90 853.5,756.60 869.5,757.10 885.5,760.90 901.5,755.60 917.5,758.10 933.5,764.10 949.5,767.90 965.5,768.60 981.5,768.60 997.5,765.10 1013.5,764.90 1029.5,750.10 1045.5,749.60 1061.5,747.90 1077.5,748.10 1093.5,749.60 1109.5,739.90 1125.5,749.90 1141.5,747.40 1157.5,747.40 1173.5,753.10 1189.5,764.90 1205.5,768.60 1221.5,775.10 1237.5,771.60 1253.5,769.30" fill="none" stroke="#1e90ff" stroke-width="2"/>
<rect x="1618" y="698" width="1" height="1" fill="#000"/><rect x="1618" y="816" width="1" height="1" fill="#000"/>
</g>
<text x="9" y="709" textLength="31.2" lengthAdjust="spacingAndGlyphs">RSI(14)</text>
<text x="43.8" y="709" textLength="33.3" lengthAdjust="spacingAndGlyphs">40.3932</text>
<text x="1621" y="707" textLength="15" lengthAdjust="spacingAndGlyphs">100</text>
<text x="1620" y="725" textLength="10" lengthAdjust="spacingAndGlyphs">80</text>
<text x="1620" y="761" textLength="10" lengthAdjust="spacingAndGlyphs">50</text>
<text x="1620" y="803" textLength="10" lengthAdjust="spacingAndGlyphs">15</text>
<text x="1621" y="814" textLength="5" lengthAdjust="spacingAndGlyphs">0</text>
<g id="dates" shape-rendering="crispEdges"><rect x="5" y="818" width="1" height="3" fill="#000"/>
<text x="4" y="830" textLength="50.2" lengthAdjust="spacingAndGlyphs">29 Jan 2023</text>
<rect x="69" y="818" width="1" height="3" fill="#000"/>
<text x="68" y="830" textLength="52.7" lengthAdjust="spacingAndGlyphs">30 Jan 12:00</text>
<rect x="133" y="818" width="1" height="3" fill="#000"/>
<text x="132" y="830" textLength="52.7" lengthAdjust="spacingAndGlyphs">31 Jan 04:00</text>
<rect x="197" y="818" width="1" height="3" fill="#000"/>
<text x="196" y="830" textLength="52.7" lengthAdjust="spacingAndGlyphs">31 Jan 20:00</text>
<rect x="261" y="818" width="1" height="3" fill="#000"/>
<text x="260" y="830" textLength="49.9" lengthAdjust="spacingAndGlyphs">1 Feb 12:00</text>
<rect x="325" y="818" width="1" height="3" fill="#000"/>
<text x="324" y="830" textLength="49.9" lengthAdjust="spacingAndGlyphs">2 Feb 04:00</text>
<rect x="389" y="818" width="1" height="3" fill="#000"/>
<text x="388" y="830" textLength="49.9" lengthAdjust="spacingAndGlyphs">2 Feb 20:00</text>
<rect x="453" y="818" width="1" height="3" fill="#000"/>
<text x="452" y="830" textLength="49.9" lengthAdjust="spacingAndGlyphs">3 Feb 12:00</text>
<rect x="517" y="818" width="1" height="3" fill="#000"/>
<text x="516" y="830" textLength="49.9" lengthAdjust="spacingAndGlyphs">6 Feb 04:00</text>
<rect x="581" y="818" width="1" height="3" fill="#000"/>
<text x="580" y="830" textLength="49.9" lengthAdjust="spacingAndGlyphs">6 Feb 20:00</text>
<rect x="645" y="818" width="1" height="3" fill="#000"/>
<text x="644" y="830" textLength="49.9" lengthAdjust="spacingAndGlyphs">7 Feb 12:00</text>
<rect x="709" y="818" width="1" height="3" fill="#000"/>
<text x="708" y="830" textLength="49.9" lengthAdjust="spacingAndGlyphs">8 Feb 04:00</text>
<rect x="773" y="818" width="1" height="3" fill="#000"/>
<text x="772" y="830" textLength="49.9" lengthAdjust="spacingAndGlyphs">8 Feb 20:00</text>
<rect x="837" y="818" width="1" height="3" fill="#000"/>
<text x="836" y="830" textLength="49.9" lengthAdjust="spacingAndGlyphs">9 Feb 12:00</text>
<rect x="901" y="818" width="1" height="3" fill="#000"/>
<text x="900" y="830" textLength="55.1" lengthAdjust="spacingAndGlyphs">10 Feb 04:00</text>
<rect x="965" y="818" width="1" height="3" fill="#000"/>
<text x="964" y="830" textLength="55.1" lengthAdjust="spacingAndGlyphs">12 Feb 23:00</text>
<rect x="1029" y="818" width="1" height="3" fill="#000"/>
<text x="1028" y="830" textLength="55.1" lengthAdjust="spacingAndGlyphs">13 Feb 12:00</text>
<rect x="1093" y="818" width="1" height="3" fill="#000"/>
<text x="1092" y="830" textLength="55.1" lengthAdjust="spacingAndGlyphs">14 Feb 04:00</text>
<rect x="1157" y="818" width="1" height="3" fill="#000"/>
<text x="1156" y="830" textLength="55.1" lengthAdjust="spacingAndGlyphs">14 Feb 20:00</text>
<rect x="1221" y="818" width="1" height="3" fill="#000"/>
<text x="1220" y="830" textLength="55.1" lengthAdjust="spacingAndGlyphs">15 Feb 12:00</text></g>
</svg></body></html>
